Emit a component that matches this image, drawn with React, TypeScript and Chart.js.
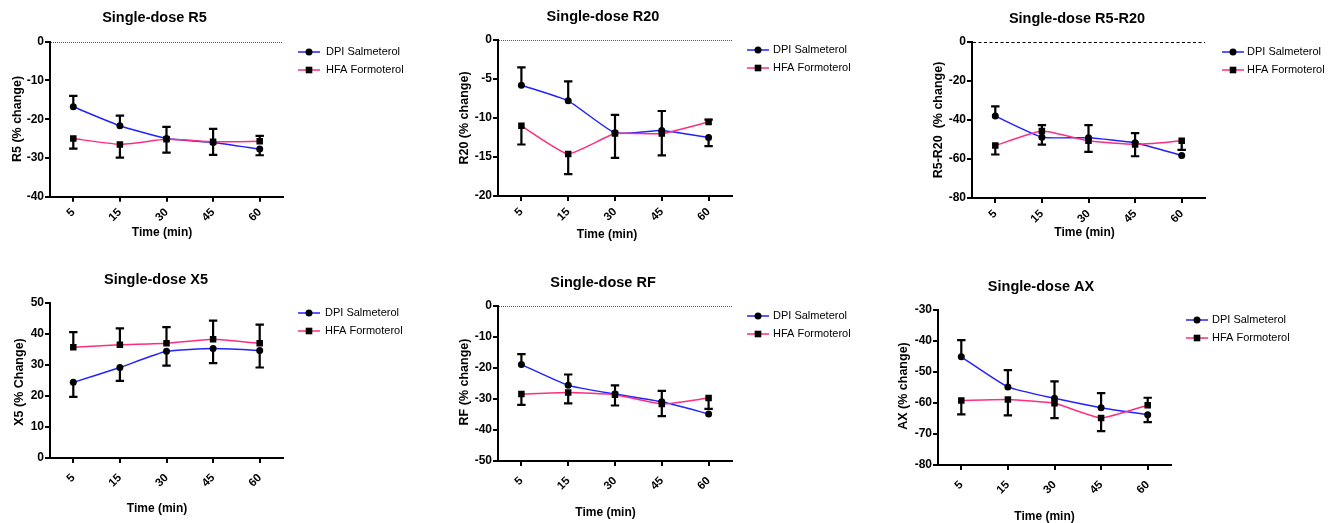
import React, { useEffect, useRef } from 'react';
import { Chart, registerables } from 'chart.js';

Chart.register(...registerables);

// ---------- data ----------
const timeLabels = ['5', '15', '30', '45', '60'];
const seriesNames = ['DPI Salmeterol', 'HFA Formoterol'];

// signed error: positive = bar drawn upward, negative = bar drawn downward
const r5Dpi = [-16.8, -21.7, -25.0, -26.0, -27.7];
const r5DpiErr = [2.8, 2.6, 3.0, -3.2, -1.6];
const r5Hfa = [-25.0, -26.5, -25.2, -25.8, -25.7];
const r5HfaErr = [-2.6, -3.4, -3.4, 3.3, 1.4];

const r20Dpi = [-5.8, -7.8, -11.9, -11.6, -12.5];
const r20DpiErr = [2.3, 2.5, 2.3, 2.5, -1.1];
const r20Hfa = [-11.0, -14.6, -12.0, -12.0, -10.5];
const r20HfaErr = [-2.4, -2.6, -3.1, -2.8, 0.3];

const r5r20Dpi = [-38.0, -48.8, -49.1, -51.7, -58.2];
const r5r20DpiErr = [5.0, -3.8, 6.5, 5.0, 0];
const r5r20Hfa = [-53.1, -45.7, -50.7, -52.5, -50.7];
const r5r20HfaErr = [-4.6, 3.1, -5.6, -6.1, -4.6];

const x5Dpi = [24.4, 29.2, 34.4, 35.3, 34.7];
const x5DpiErr = [-4.7, -4.3, -4.6, -4.7, -5.5];
const x5Hfa = [35.7, 36.5, 37.0, 38.3, 37.0];
const x5HfaErr = [4.9, 5.3, 5.2, 6.0, 6.0];

const rfDpi = [-18.9, -25.6, -28.4, -30.9, -34.8];
const rfDpiErr = [3.4, 3.5, 2.8, 3.5, 0];
const rfHfa = [-28.4, -27.9, -28.6, -31.6, -29.7];
const rfHfaErr = [-3.5, -3.5, -3.5, -3.9, -3.5];

const axDpi = [-45.1, -54.8, -58.5, -61.5, -63.8];
const axDpiErr = [5.4, 5.4, 5.5, 4.7, -2.4];
const axHfa = [-59.2, -58.9, -60.1, -64.8, -60.7];
const axHfaErr = [-4.5, -5.1, -4.8, -4.3, 2.4];

// ---------- styles / layout ----------
const FONT = "'Liberation Sans', Arial, Helvetica, sans-serif";
const DPI_COLOR = '#2222ff';
const HFA_COLOR = '#ff2d7d';

type PanelCfg = {
  title: string;
  yTitle: string;
  yMin: number;
  yMax: number;
  yStep: number;
  dpi: number[];
  dpiErr: number[];
  hfa: number[];
  hfaErr: number[];
  zeroLine: boolean;
  zeroDash: number[];
  zeroColor: string;
  xTickPad: number;
  box: [number, number, number, number];
  plot: [number, number, number, number];
  titleAt: [number, number];
  xTitleAt: [number, number];
  yTitleAt: [number, number];
  legendAt: [number, number, number, number];
};

const panels: PanelCfg[] = [
  {
    title: 'Single-dose R5', yTitle: 'R5 (% change)', yMin: -40, yMax: 0, yStep: 10,
    dpi: r5Dpi, dpiErr: r5DpiErr, hfa: r5Hfa, hfaErr: r5HfaErr,
    zeroLine: true, zeroDash: [1, 1], zeroColor: '#555', xTickPad: 4,
    box: [0, 0, 440, 260], plot: [50, 41.7, 283, 196.7],
    titleAt: [154.5, 18], xTitleAt: [162, 233], yTitleAt: [17.5, 119], legendAt: [298, 326, 52, 70],
  },
  {
    title: 'Single-dose R20', yTitle: 'R20 (% change)', yMin: -20, yMax: 0, yStep: 5,
    dpi: r20Dpi, dpiErr: r20DpiErr, hfa: r20Hfa, hfaErr: r20HfaErr,
    zeroLine: true, zeroDash: [1, 1], zeroColor: '#555', xTickPad: 4,
    box: [440, 0, 450, 260], plot: [498, 40, 732, 196],
    titleAt: [603, 17], xTitleAt: [607, 235], yTitleAt: [465, 118], legendAt: [747, 773, 50, 68],
  },
  {
    title: 'Single-dose R5-R20', yTitle: 'R5-R20  (% change)', yMin: -80, yMax: 0, yStep: 20,
    dpi: r5r20Dpi, dpiErr: r5r20DpiErr, hfa: r5r20Hfa, hfaErr: r5r20HfaErr,
    zeroLine: true, zeroDash: [3, 2.5], zeroColor: '#000', xTickPad: 4,
    box: [890, 0, 447, 260], plot: [972, 42, 1205, 198],
    titleAt: [1077, 19], xTitleAt: [1084.5, 233], yTitleAt: [939, 120], legendAt: [1222, 1247, 52, 70],
  },
  {
    title: 'Single-dose X5', yTitle: 'X5 (% Change)', yMin: 0, yMax: 50, yStep: 10,
    dpi: x5Dpi, dpiErr: x5DpiErr, hfa: x5Hfa, hfaErr: x5HfaErr,
    zeroLine: false, zeroDash: [1, 1], zeroColor: '#555', xTickPad: 8,
    box: [0, 260, 440, 263], plot: [50, 303, 283, 458],
    titleAt: [156, 280], xTitleAt: [157, 509], yTitleAt: [19.7, 382], legendAt: [298, 325, 313, 331],
  },
  {
    title: 'Single-dose RF', yTitle: 'RF (% change)', yMin: -50, yMax: 0, yStep: 10,
    dpi: rfDpi, dpiErr: rfDpiErr, hfa: rfHfa, hfaErr: rfHfaErr,
    zeroLine: true, zeroDash: [1, 1], zeroColor: '#555', xTickPad: 8,
    box: [440, 260, 430, 263], plot: [498, 306, 732, 461],
    titleAt: [603, 283], xTitleAt: [605.5, 513], yTitleAt: [465, 382], legendAt: [747, 773, 316, 334],
  },
  {
    title: 'Single-dose AX', yTitle: 'AX (% change)', yMin: -80, yMax: -30, yStep: 10,
    dpi: axDpi, dpiErr: axDpiErr, hfa: axHfa, hfaErr: axHfaErr,
    zeroLine: false, zeroDash: [1, 1], zeroColor: '#555', xTickPad: 8,
    box: [870, 260, 467, 263], plot: [938, 310, 1171, 465],
    titleAt: [1041, 287], xTitleAt: [1044.5, 517], yTitleAt: [904, 386], legendAt: [1186, 1212, 320, 338],
  },
];

// ---------- plugin ----------
const decorPlugin = {
  id: 'panelDecor',
  beforeDatasetsDraw(chart: any, _args: any, opts: any) {
    if (!opts || !opts.zeroLine) return;
    const { ctx, chartArea } = chart;
    const y = chart.scales.y.getPixelForValue(0);
    ctx.save();
    ctx.strokeStyle = opts.zeroColor;
    ctx.lineWidth = 1;
    ctx.setLineDash(opts.zeroDash);
    ctx.beginPath();
    ctx.moveTo(chartArea.left + 1, Math.round(y) + 0.5);
    ctx.lineTo(chartArea.right, Math.round(y) + 0.5);
    ctx.stroke();
    ctx.restore();
  },
  afterDatasetsDraw(chart: any, _args: any, opts: any) {
    if (!opts || !opts.errors) return;
    const { ctx } = chart;
    const ys = chart.scales.y;
    ctx.save();
    ctx.strokeStyle = '#000';
    ctx.lineWidth = 2.2;
    ctx.setLineDash([]);
    chart.data.datasets.forEach((ds: any, i: number) => {
      const meta = chart.getDatasetMeta(i);
      const errs: number[] = opts.errors[i];
      meta.data.forEach((pt: any, j: number) => {
        const e = errs[j];
        if (!e) return;
        const v = ds.data[j];
        const y0 = ys.getPixelForValue(v);
        const y1 = ys.getPixelForValue(v + e);
        ctx.beginPath();
        ctx.moveTo(pt.x, y0);
        ctx.lineTo(pt.x, y1);
        ctx.moveTo(pt.x - 4.2, y1);
        ctx.lineTo(pt.x + 4.2, y1);
        ctx.stroke();
      });
    });
    ctx.restore();
  },
  afterDraw(chart: any, _args: any, opts: any) {
    if (!opts) return;
    const { ctx } = chart;
    const ox = opts.origin[0];
    const oy = opts.origin[1];
    ctx.save();
    ctx.fillStyle = '#000';
    ctx.textAlign = 'center';
    ctx.textBaseline = 'middle';
    // title
    ctx.font = `bold 14.5px ${FONT}`;
    ctx.fillText(opts.title, opts.titleAt[0] - ox, opts.titleAt[1] - oy);
    // x title
    ctx.font = `bold 12px ${FONT}`;
    ctx.fillText('Time (min)', opts.xTitleAt[0] - ox, opts.xTitleAt[1] - oy);
    // y title
    ctx.save();
    ctx.translate(opts.yTitleAt[0] - ox, opts.yTitleAt[1] - oy);
    ctx.rotate(-Math.PI / 2);
    ctx.font = `bold 12.5px ${FONT}`;
    ctx.fillText(opts.yTitle, 0, 0);
    ctx.restore();
    // legend
    const [lx, tx, ly1, ly2] = opts.legendAt;
    const rows = [ly1, ly2];
    chart.data.datasets.forEach((ds: any, i: number) => {
      const y = rows[i] - oy;
      const x0 = lx - ox;
      ctx.strokeStyle = ds.borderColor;
      ctx.lineWidth = 1.5;
      ctx.beginPath();
      ctx.moveTo(x0, y);
      ctx.lineTo(x0 + 22, y);
      ctx.stroke();
      ctx.fillStyle = '#000';
      if (ds.pointStyle === 'rect') {
        ctx.fillRect(x0 + 11 - 3.3, y - 3.3, 6.6, 6.6);
      } else {
        ctx.beginPath();
        ctx.arc(x0 + 11, y, 3.5, 0, Math.PI * 2);
        ctx.fill();
      }
      ctx.textAlign = 'left';
      ctx.font = `11px ${FONT}`;
      ctx.fillText(ds.label, tx - ox, y);
    });
    ctx.restore();
  },
};

function buildChart(canvas: HTMLCanvasElement, p: PanelCfg) {
  const [bl, bt, bw, bh] = p.box;
  const [pl, pt, pr, pb] = p.plot;
  const axisGrid = {
    display: true,
    drawOnChartArea: false,
    drawTicks: true,
    tickLength: 5,
    tickWidth: 2,
    tickColor: '#000',
    color: '#000',
    lineWidth: 2,
    offset: false,
  };
  const yTickFont = { family: FONT, weight: 'bold' as const, size: 12 };
  const xTickFont = { family: FONT, weight: 'bold' as const, size: 11.5 };
  return new Chart(canvas, {
    type: 'line',
    data: {
      labels: timeLabels,
      datasets: [
        {
          label: seriesNames[0],
          data: p.dpi,
          borderColor: DPI_COLOR,
          backgroundColor: '#000',
          borderWidth: 1.5,
          pointStyle: 'circle',
          pointRadius: 3.5,
          pointBackgroundColor: '#000',
          pointBorderColor: '#000',
          pointBorderWidth: 0,
          tension: 0.15,
          order: 1,
        },
        {
          label: seriesNames[1],
          data: p.hfa,
          borderColor: HFA_COLOR,
          backgroundColor: '#000',
          borderWidth: 1.5,
          pointStyle: 'rect',
          pointRadius: 4.6,
          pointBackgroundColor: '#000',
          pointBorderColor: '#000',
          pointBorderWidth: 0,
          tension: 0.15,
          order: 0,
        },
      ],
    },
    options: {
      animation: false,
      responsive: true,
      maintainAspectRatio: false,
      events: [],
      layout: { padding: { left: 0, top: pt - bt, right: bl + bw - pr, bottom: 0 } },
      plugins: {
        legend: { display: false },
        tooltip: { enabled: false },
        title: { display: false },
        panelDecor: {
          origin: [bl, bt],
          title: p.title,
          yTitle: p.yTitle,
          titleAt: p.titleAt,
          xTitleAt: p.xTitleAt,
          yTitleAt: p.yTitleAt,
          legendAt: p.legendAt,
          zeroLine: p.zeroLine,
          zeroDash: p.zeroDash,
          zeroColor: p.zeroColor,
          errors: [p.dpiErr, p.hfaErr],
        },
      } as any,
      scales: {
        x: {
          type: 'category',
          offset: true,
          grid: axisGrid,
          border: { display: true, color: '#000', width: 2 },
          ticks: {
            color: '#000',
            font: xTickFont,
            minRotation: 45,
            maxRotation: 45,
            autoSkip: false,
            padding: p.xTickPad,
          },
          afterFit: (s: any) => {
            s.height = bt + bh - pb;
          },
        },
        y: {
          type: 'linear',
          min: p.yMin,
          max: p.yMax,
          grid: axisGrid,
          border: { display: true, color: '#000', width: 2 },
          ticks: { stepSize: p.yStep, color: '#000', font: yTickFont, padding: 1 },
          afterFit: (s: any) => {
            s.width = pl - bl;
          },
        },
      },
    },
    plugins: [decorPlugin],
  } as any);
}

export default function App() {
  const refs = useRef<(HTMLCanvasElement | null)[]>([]);

  useEffect(() => {
    Chart.defaults.font.family = FONT;
    const charts = panels.map((p, i) => buildChart(refs.current[i] as HTMLCanvasElement, p));
    return () => {
      charts.forEach((c) => c.destroy());
    };
  }, []);

  return (
    <div style={{ position: 'absolute', left: 0, top: 0, width: 1337, height: 523, background: '#fff' }}>
      {panels.map((p, i) => (
        <div
          key={p.title}
          style={{
            position: 'absolute',
            left: p.box[0],
            top: p.box[1],
            width: p.box[2],
            height: p.box[3],
          }}
        >
          <canvas ref={(el) => { refs.current[i] = el; }} />
        </div>
      ))}
    </div>
  );
}
